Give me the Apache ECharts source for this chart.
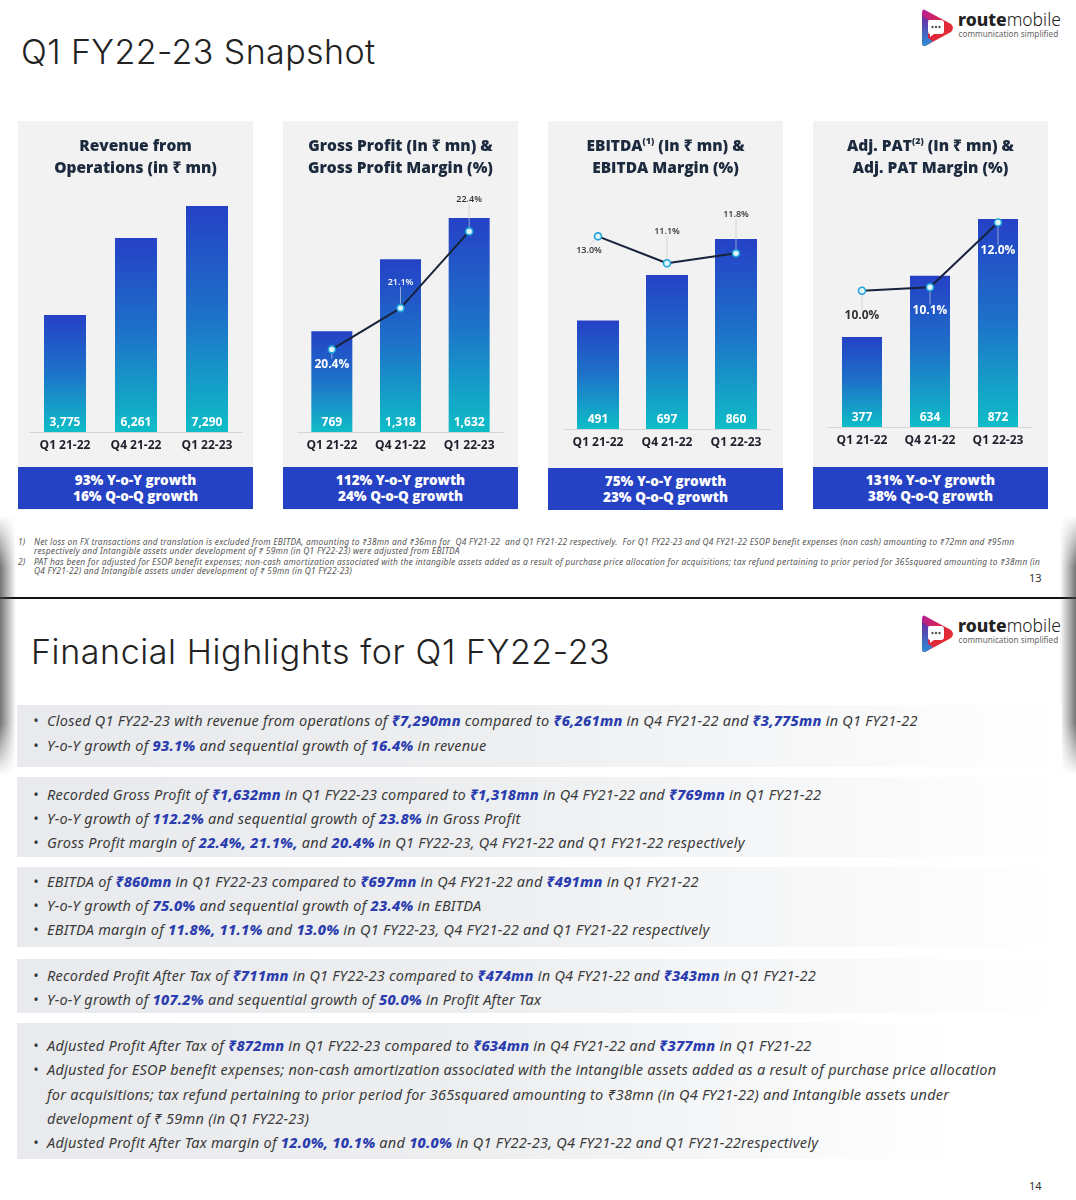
<!DOCTYPE html>
<html>
<head>
<meta charset="utf-8">
<script src="https://cdn.jsdelivr.net/npm/echarts@6/dist/echarts.min.js"></script>
<style>
  html,body{margin:0;padding:0;background:#fff;}
  body{width:1076px;height:1200px;position:relative;overflow:hidden;font-family:"Noto Sans","Open Sans",sans-serif;}
  .abs{position:absolute;}
  .panel{position:absolute;top:121px;width:235px;height:389px;background:#f2f2f2;}
  .ptitle{position:absolute;top:134px;width:235px;text-align:center;font-family:"Open Sans","Noto Sans",sans-serif;font-weight:800;font-size:15.5px;line-height:22px;color:#1c2a3d;white-space:nowrap;z-index:3;}
  .ptitle sup{font-size:9px;vertical-align:7px;line-height:0;}
  .gbox{position:absolute;width:235px;height:42px;background:#2541c4;color:#fff;font-family:"Open Sans","Noto Sans",sans-serif;font-weight:800;font-size:13.5px;line-height:16px;text-align:center;z-index:3;box-sizing:border-box;padding-top:5px;}
  .bigtitle{position:absolute;font-family:Inter,"Noto Sans",sans-serif;font-weight:300;font-size:34px;letter-spacing:0.4px;color:#222;white-space:nowrap;}
  .foot{position:absolute;left:0;font-style:italic;font-size:8.4px;letter-spacing:0.25px;color:#555;white-space:nowrap;line-height:9px;}
  .pgnum{position:absolute;font-size:11px;color:#333;}
  .hbox{position:absolute;left:17px;width:1045px;background:linear-gradient(to right,#e8eaed 0%,#eceef0 45%,rgba(255,255,255,1) 100%);}
  .hl{position:absolute;left:0;white-space:nowrap;font-style:italic;font-size:14.5px;letter-spacing:0.25px;color:#3a3a3a;line-height:24px;}
  .hl b{color:#2a3cae;font-weight:800;}
  .bul{position:absolute;left:33px;}
  .txt{position:absolute;left:47px;}
  .shade{position:absolute;width:16px;}
</style>
</head>
<body>
<!-- slide 13 backgrounds -->
<div class="panel" style="left:18px"></div>
<div class="panel" style="left:283px"></div>
<div class="panel" style="left:548px"></div>
<div class="panel" style="left:813px"></div>

<div id="chart" class="abs" style="left:0;top:0;width:1076px;height:600px;z-index:2"></div>

<div id="overlay"></div>

<script>
// ---------------- DATA ----------------
const categories = ['Q1 21-22', 'Q4 21-22', 'Q1 22-23'];
const revenue = [3775, 6261, 7290];
const grossProfit = [769, 1318, 1632];
const grossMargin = [20.4, 21.1, 22.4];
const ebitda = [491, 697, 860];
const ebitdaMargin = [13.0, 11.1, 11.8];
const adjPat = [377, 634, 872];
const adjPatMargin = [10.0, 10.1, 12.0];

const panelTitles = [
  ['Revenue from', 'Operations (in ₹ mn)'],
  ['Gross Profit (In ₹ mn) &', 'Gross Profit Margin (%)'],
  ['EBITDA<sup>(1)</sup> (In ₹ mn) &', 'EBITDA Margin (%)'],
  ['Adj. PAT<sup>(2)</sup> (In ₹ mn) &', 'Adj. PAT Margin (%)']
];
const growthTexts = [
  ['93% Y-o-Y growth', '16% Q-o-Q growth'],
  ['112% Y-o-Y growth', '24% Q-o-Q growth'],
  ['75% Y-o-Y growth', '23% Q-o-Q growth'],
  ['131% Y-o-Y growth', '38% Q-o-Q growth']
];

// ---------------- LAYOUT / STYLE ----------------
const panelLeft = [18, 283, 548, 813];
const boxTop = [467, 467, 468, 467];
const grids = [
  {left: 29.5, top: 184, width: 213, height: 248},
  {left: 297.5, top: 196, width: 206, height: 236},
  {left: 563.5, top: 208, width: 207, height: 221},
  {left: 828, top: 188.5, width: 204, height: 238.5}
];
const barAxisMax = [8000, 1800, 1000, 1000];
const marginAxis = [null, [19, 23], [-0.6, 15], [6, 13]];
const barWidths = [42, 41, 42, 40];

// label styles for margin points: [position, dx, dy, fontSize, color, weight]
const marginLabelStyle = [
  null,
  [['bottom', 0, 0, 12, '#ffffff', 700], ['top', 0, -12, 9, '#ffffff', 600], ['top', 0, -18, 9, '#333333', 600]],
  [['bottom', -9, 0, 9, '#333333', 600], ['top', 0, -18, 9, '#333333', 600], ['top', 0, -25, 9, '#333333', 600]],
  [['bottom', 0, 10, 12, '#333333', 700], ['bottom', 0, 8, 12, '#ffffff', 700], ['bottom', 0, 13, 12, '#ffffff', 700]]
];

const barSeriesData = [revenue, grossProfit, ebitda, adjPat];
const lineSeriesData = [null, grossMargin, ebitdaMargin, adjPatMargin];

// ---------------- OVERLAY TEXT ----------------
let ov = '';
panelLeft.forEach((x, i) => {
  ov += `<div class="ptitle" style="left:${x}px">${panelTitles[i][0]}<br>${panelTitles[i][1]}</div>`;
  ov += `<div class="gbox" style="left:${x}px;top:${boxTop[i]}px">${growthTexts[i][0]}<br>${growthTexts[i][1]}</div>`;
});
document.getElementById('overlay').innerHTML = ov;

// ---------------- CHART ----------------
const chart = echarts.init(document.getElementById('chart'), null, {renderer: 'canvas'});
const barGrad = () => new echarts.graphic.LinearGradient(0, 0, 0, 1, [
  {offset: 0, color: '#2541c6'},
  {offset: 0.5, color: '#1d73c9'},
  {offset: 1, color: '#0fbdc7'}
]);

const xAxis = [], yAxis = [], series = [];
grids.forEach((g, i) => {
  xAxis.push({
    type: 'category', gridIndex: i, data: categories,
    axisLine: {show: true, lineStyle: {color: '#d6d6d6', width: 1}},
    axisTick: {show: false},
    axisLabel: {fontFamily: 'Open Sans', fontWeight: 700, fontSize: 12, color: '#1e1f2a', margin: 8}
  });
  yAxis.push({type: 'value', gridIndex: i, min: 0, max: barAxisMax[i], show: false, splitLine: {show: false}});
});
const marginAxisIndex = {};
grids.forEach((g, i) => {
  if (marginAxis[i]) {
    marginAxisIndex[i] = yAxis.length;
    yAxis.push({type: 'value', gridIndex: i, min: marginAxis[i][0], max: marginAxis[i][1], show: false, splitLine: {show: false}});
  }
});

grids.forEach((g, i) => {
  series.push({
    type: 'bar', xAxisIndex: i, yAxisIndex: i,
    data: barSeriesData[i],
    barWidth: barWidths[i],
    itemStyle: {color: barGrad()},
    label: {
      show: true, position: 'insideBottom', distance: 3,
      color: '#fff', fontFamily: 'Open Sans', fontWeight: 700, fontSize: 12,
      formatter: p => p.value.toLocaleString('en-US')
    },
    z: 2
  });
  if (lineSeriesData[i]) {
    const st = marginLabelStyle[i];
    series.push({
      type: 'line', xAxisIndex: i, yAxisIndex: marginAxisIndex[i],
      data: lineSeriesData[i].map((v, k) => ({
        value: v,
        label: {
          show: true, position: st[k][0], distance: 5,
          fontSize: st[k][3], color: st[k][4], fontWeight: st[k][5], fontFamily: 'Open Sans',
          formatter: p => p.value.toFixed(1) + '%'
        }
      })),
      labelLayout: p => ({dx: st[p.dataIndex][1], dy: st[p.dataIndex][2]}),
      labelLine: {show: true, lineStyle: {color: 'rgba(190,200,210,0.9)', width: 0.8}},
      symbol: 'circle', symbolSize: 7,
      lineStyle: {color: '#17223b', width: 2},
      itemStyle: {color: '#dff5fc', borderColor: '#1ea3d8', borderWidth: 1.6},
      z: 5
    });
  }
});

chart.setOption({
  animation: false,
  backgroundColor: 'transparent',
  grid: grids,
  xAxis, yAxis, series
});
</script>

<!-- slide 13 text -->
<div class="bigtitle" style="left:21px;top:31px;">Q1 FY22-23 Snapshot</div>

<!-- logo 1 -->
<svg class="abs" style="left:919px;top:6px" width="145" height="44" viewBox="0 0 145 44">
  <defs>
    <linearGradient id="lg1" x1="0" y1="0" x2="1" y2="1">
      <stop offset="0" stop-color="#b51f9a"/><stop offset="0.55" stop-color="#e0283a"/><stop offset="1" stop-color="#e8332a"/>
    </linearGradient>
    <linearGradient id="lg2" x1="0" y1="0" x2="0" y2="1">
      <stop offset="0" stop-color="#6a2aa0"/><stop offset="1" stop-color="#2a8fd8"/>
    </linearGradient>
  </defs>
  <path d="M6 4 Q3 2 3 8 L3 36 Q3 42 8 39 L32 26 Q36 22 32 18 Z" fill="url(#lg1)"/>
  <path d="M3 10 L3 36 Q3 42 8 39 L14 35 L9 32 L9 14 Z" fill="url(#lg2)"/>
  <path d="M10 14 L22 14 Q25 14 25 17 L25 25 Q25 28 22 28 L15 28 L11 31 L11 28 Q9 28 9 25 L9 17 Q9 14 10 14 Z" fill="#fff"/>
  <circle cx="13.5" cy="21" r="1.2" fill="#555"/><circle cx="17" cy="21" r="1.2" fill="#555"/><circle cx="20.5" cy="21" r="1.2" fill="#555"/>
  <text x="39" y="20" font-family="Noto Sans" font-size="17.5" fill="#222"><tspan font-weight="800">route</tspan><tspan font-weight="300">mobile</tspan></text>
  <text x="39.5" y="31" font-family="Noto Sans" font-size="8.2" fill="#666">communication simplified</text>
</svg>

<div class="foot" style="top:537px;left:18px">1)</div>
<div class="foot" style="top:537px;left:34px">Net loss on FX transactions and translation is excluded from EBITDA, amounting to ₹38mn and ₹36mn for&nbsp; Q4 FY21-22&nbsp; and Q1 FY21-22 respectively.&nbsp; For Q1 FY22-23 and Q4 FY21-22 ESOP benefit expenses (non cash) amounting to ₹72mn and ₹95mn</div>
<div class="foot" style="top:546px;left:34px">respectively and Intangible assets under development of ₹ 59mn (in Q1 FY22-23) were adjusted from EBITDA</div>
<div class="foot" style="top:557px;left:18px">2)</div>
<div class="foot" style="top:557px;left:34px">PAT has been for adjusted for ESOP benefit expenses; non-cash amortization associated with the intangible assets added as a result of purchase price allocation for acquisitions; tax refund pertaining to prior period for 365squared amounting to ₹38mn (in</div>
<div class="foot" style="top:566px;left:34px">Q4 FY21-22) and Intangible assets under development of ₹ 59mn (in Q1 FY22-23)</div>
<div class="pgnum" style="left:1029px;top:570px">13</div>

<!-- separator -->
<div class="abs" style="left:0;top:597px;width:1076px;height:2px;background:#111"></div>

<!-- page shadows -->
<div class="shade" style="left:0;top:515px;height:260px;background:linear-gradient(to right,rgba(70,70,70,0.75),rgba(120,120,120,0));-webkit-mask-image:linear-gradient(to bottom,transparent,#000 20%,#000 80%,transparent);"></div>
<div class="shade" style="left:1060px;top:515px;height:260px;background:linear-gradient(to left,rgba(70,70,70,0.75),rgba(120,120,120,0));-webkit-mask-image:linear-gradient(to bottom,transparent,#000 20%,#000 80%,transparent);"></div>

<!-- slide 14 -->
<div class="bigtitle" style="left:31px;top:631px;letter-spacing:0.6px;">Financial Highlights for Q1 FY22-23</div>
<svg class="abs" style="left:919px;top:612px" width="145" height="44" viewBox="0 0 145 44">
  <defs>
    <linearGradient id="lg3" x1="0" y1="0" x2="1" y2="1">
      <stop offset="0" stop-color="#b51f9a"/><stop offset="0.55" stop-color="#e0283a"/><stop offset="1" stop-color="#e8332a"/>
    </linearGradient>
    <linearGradient id="lg4" x1="0" y1="0" x2="0" y2="1">
      <stop offset="0" stop-color="#6a2aa0"/><stop offset="1" stop-color="#2a8fd8"/>
    </linearGradient>
  </defs>
  <path d="M6 4 Q3 2 3 8 L3 36 Q3 42 8 39 L32 26 Q36 22 32 18 Z" fill="url(#lg3)"/>
  <path d="M3 10 L3 36 Q3 42 8 39 L14 35 L9 32 L9 14 Z" fill="url(#lg4)"/>
  <path d="M10 14 L22 14 Q25 14 25 17 L25 25 Q25 28 22 28 L15 28 L11 31 L11 28 Q9 28 9 25 L9 17 Q9 14 10 14 Z" fill="#fff"/>
  <circle cx="13.5" cy="21" r="1.2" fill="#555"/><circle cx="17" cy="21" r="1.2" fill="#555"/><circle cx="20.5" cy="21" r="1.2" fill="#555"/>
  <text x="39" y="20" font-family="Noto Sans" font-size="17.5" fill="#222"><tspan font-weight="800">route</tspan><tspan font-weight="300">mobile</tspan></text>
  <text x="39.5" y="31" font-family="Noto Sans" font-size="8.2" fill="#666">communication simplified</text>
</svg>

<div class="hbox" style="top:705px;height:62px"></div>
<div class="hbox" style="top:777px;height:80px"></div>
<div class="hbox" style="top:867px;height:80px"></div>
<div class="hbox" style="top:959px;height:54px"></div>
<div class="hbox" style="top:1023px;height:136px;background:linear-gradient(to right,#e8eaed 0%,#eceef0 45%,rgba(255,255,255,1) 90%);"></div>

<div class="hl" style="top:708px"><span class="bul">•</span><span class="txt">Closed Q1 FY22-23 with revenue from operations of <b>₹7,290mn</b> compared to <b>₹6,261mn</b> in Q4 FY21-22 and <b>₹3,775mn</b> in Q1 FY21-22</span></div>
<div class="hl" style="top:733px"><span class="bul">•</span><span class="txt">Y-o-Y growth of <b>93.1%</b> and sequential growth of <b>16.4%</b> in revenue</span></div>

<div class="hl" style="top:782px"><span class="bul">•</span><span class="txt">Recorded Gross Profit of <b>₹1,632mn</b> in Q1 FY22-23 compared to <b>₹1,318mn</b> in Q4 FY21-22 and <b>₹769mn</b> in Q1 FY21-22</span></div>
<div class="hl" style="top:806px"><span class="bul">•</span><span class="txt">Y-o-Y growth of <b>112.2%</b> and sequential growth of <b>23.8%</b> in Gross Profit</span></div>
<div class="hl" style="top:830px"><span class="bul">•</span><span class="txt">Gross Profit margin of <b>22.4%, 21.1%,</b> and <b>20.4%</b> in Q1 FY22-23, Q4 FY21-22 and Q1 FY21-22 respectively</span></div>

<div class="hl" style="top:869px"><span class="bul">•</span><span class="txt">EBITDA of <b>₹860mn</b> in Q1 FY22-23 compared to <b>₹697mn</b> in Q4 FY21-22 and <b>₹491mn</b> in Q1 FY21-22</span></div>
<div class="hl" style="top:893px"><span class="bul">•</span><span class="txt">Y-o-Y growth of <b>75.0%</b> and sequential growth of <b>23.4%</b> in EBITDA</span></div>
<div class="hl" style="top:917px"><span class="bul">•</span><span class="txt">EBITDA margin of <b>11.8%, 11.1%</b> and <b>13.0%</b> in Q1 FY22-23, Q4 FY21-22 and Q1 FY21-22 respectively</span></div>

<div class="hl" style="top:963px"><span class="bul">•</span><span class="txt">Recorded Profit After Tax of <b>₹711mn</b> in Q1 FY22-23 compared to <b>₹474mn</b> in Q4 FY21-22 and <b>₹343mn</b> in Q1 FY21-22</span></div>
<div class="hl" style="top:987px"><span class="bul">•</span><span class="txt">Y-o-Y growth of <b>107.2%</b> and sequential growth of <b>50.0%</b> in Profit After Tax</span></div>

<div class="hl" style="top:1033px"><span class="bul">•</span><span class="txt">Adjusted Profit After Tax of <b>₹872mn</b> in Q1 FY22-23 compared to <b>₹634mn</b> in Q4 FY21-22 and <b>₹377mn</b> in Q1 FY21-22</span></div>
<div class="hl" style="top:1057px"><span class="bul">•</span><span class="txt">Adjusted for ESOP benefit expenses; non-cash amortization associated with the intangible assets added as a result of purchase price allocation</span></div>
<div class="hl" style="top:1082px"><span class="txt">for acquisitions; tax refund pertaining to prior period for 365squared amounting to ₹38mn (in Q4 FY21-22) and Intangible assets under</span></div>
<div class="hl" style="top:1106px"><span class="txt">development of ₹ 59mn (in Q1 FY22-23)</span></div>
<div class="hl" style="top:1130px"><span class="bul">•</span><span class="txt">Adjusted Profit After Tax margin of <b>12.0%, 10.1%</b> and <b>10.0%</b> in Q1 FY22-23, Q4 FY21-22 and Q1 FY21-22respectively</span></div>

<div class="pgnum" style="left:1029px;top:1178px">14</div>
</body>
</html>
